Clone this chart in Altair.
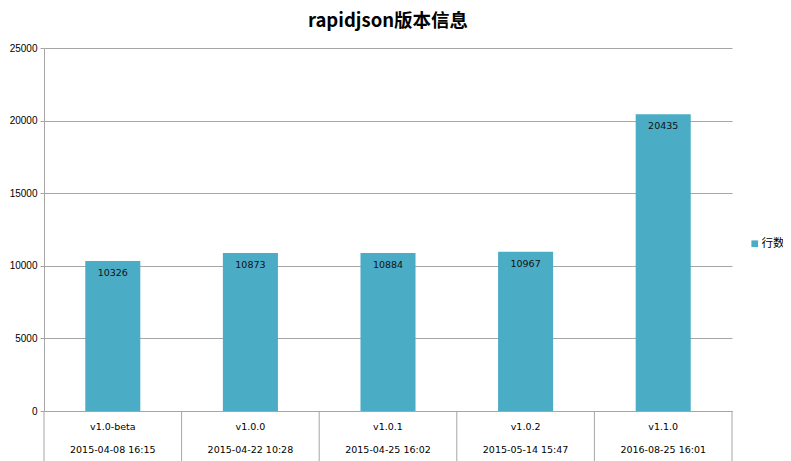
import altair as alt
import pandas as pd

versions = ["v1.0-beta", "v1.0.0", "v1.0.1", "v1.0.2", "v1.1.0"]
dates = ["2015-04-08 16:15", "2015-04-22 10:28", "2015-04-25 16:02",
         "2015-05-14 15:47", "2016-08-25 16:01"]
lines = [10326, 10873, 10884, 10967, 20435]
series_name = "行数"
title_text = "rapidjson版本信息"

n = len(versions)
df = pd.DataFrame({
    "idx": list(range(n)),
    "version": versions,
    "date": dates,
    "lines": lines,
    "series": [series_name] * n,
})
df["x0"] = df["idx"] - 0.2
df["x1"] = df["idx"] + 0.2
bounds = pd.DataFrame({"b": [i - 0.5 for i in range(n + 1)]})

GRID = "#a6a6a6"
FONT = "DejaVu Sans"

xscale = alt.Scale(domain=[-0.5, n - 0.5], nice=False, zero=False)
yscale = alt.Scale(domain=[0, 25000], nice=False)

base = alt.Chart(df)

bars = base.mark_bar(stroke=None).encode(
    x=alt.X("x0:Q", scale=xscale,
            axis=alt.Axis(labels=False, ticks=False, grid=False, title=None,
                          domainColor=GRID, domainWidth=1)),
    x2="x1:Q",
    y=alt.Y("lines:Q", scale=yscale,
            axis=alt.Axis(values=[0, 5000, 10000, 15000, 20000, 25000],
                          format="d",
                          title=None, grid=True, gridColor=GRID, gridWidth=1,
                          domainColor=GRID, tickColor=GRID, tickSize=4,
                          labelPadding=3, labelFont="Liberation Sans",
                          labelFontSize=10, labelColor="#000000")),
    y2=alt.datum(0),
    color=alt.Color("series:N", scale=alt.Scale(range=["#4BACC6"]),
                    legend=alt.Legend(title=None, orient="none", legendX=705,
                                      legendY=190, symbolType="square",
                                      symbolSize=45, symbolStrokeWidth=0,
                                      labelFontSize=11.5, labelOffset=1,
                                      labelFont="Noto Sans CJK SC",
                                      labelColor="#000000")),
)

values = base.mark_text(font=FONT, fontSize=9.5, color="#111111",
                        baseline="middle", dy=12).encode(
    x=alt.X("idx:Q", scale=xscale),
    y=alt.Y("lines:Q", scale=yscale),
    text="lines:Q",
)

ver_labels = base.mark_text(font=FONT, fontSize=9.5, color="#000000",
                            baseline="middle").encode(
    x=alt.X("idx:Q", scale=xscale),
    y=alt.value(379),
    text="version:N",
)

date_labels = base.mark_text(font=FONT, fontSize=9.5, color="#000000",
                             baseline="middle").encode(
    x=alt.X("idx:Q", scale=xscale),
    y=alt.value(402),
    text="date:N",
)

seps = alt.Chart(bounds).mark_rule(color=GRID, strokeWidth=1).encode(
    x=alt.X("b:Q", scale=xscale),
    y=alt.value(363),
    y2=alt.value(420),
)

title = alt.Chart(pd.DataFrame({"t": [title_text]})).mark_text(
    font="Noto Sans CJK SC", fontSize=18.5, fontWeight="bold",
    color="#000000", baseline="middle").encode(
    x=alt.value(344),
    y=alt.value(-27),
    text="t:N",
)

chart = alt.layer(bars, values, ver_labels, date_labels, seps, title).properties(
    width=688,
    height=363,
    autosize=alt.AutoSizeParams(type="none"),
    padding={"left": 36, "top": 40, "right": 51, "bottom": 60},
    background="white",
).configure_view(stroke=None)

chart.save("out.html", embed_options={"renderer": "svg", "actions": False})
